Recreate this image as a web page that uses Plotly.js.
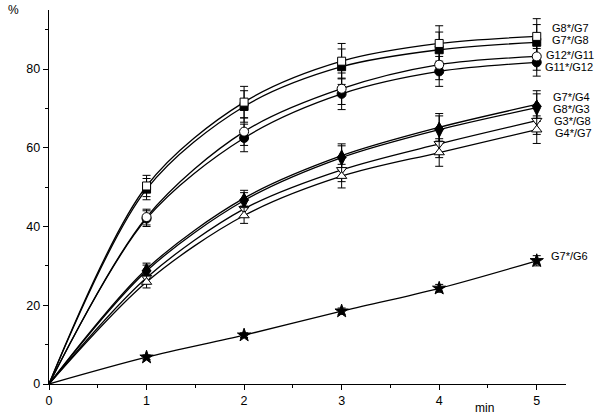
<!DOCTYPE html>
<html>
<head>
<meta charset="utf-8">
<script src="https://cdn.plot.ly/plotly-3.0.1.min.js"></script>
<style>html,body{margin:0;padding:0;background:#fff;}#chart{width:600px;height:419px;}</style>
</head>
<body>
<div id="chart"></div>
<script>
// time (min)
const times = [0, 1, 2, 3, 4, 5];

// series names
const names = ["G8*/G7", "G7*/G8", "G12*/G11", "G11*/G12", "G7*/G4", "G8*/G3", "G3*/G8", "G4*/G7", "G7*/G6"];

// values (%)
const g8g7   = [0, 50.3, 71.6, 82.0, 86.5, 88.3];
const g7g8   = [0, 49.5, 70.5, 80.6, 84.9, 86.8];
const g12g11 = [0, 42.4, 64.1, 75.0, 81.1, 83.2];
const g11g12 = [0, 42.0, 62.5, 73.7, 79.4, 81.7];
const g7g4   = [0, 29.2, 47.2, 58.0, 65.2, 71.0];
const g8g3   = [0, 28.7, 46.6, 57.5, 64.6, 70.2];
const g3g8   = [0, 27.0, 44.5, 54.4, 61.0, 66.9];
const g4g7   = [0, 25.9, 42.8, 52.8, 58.8, 64.6];
const g7g6   = [0, 6.8, 12.4, 18.5, 24.3, 31.3];

// error bars (±)
const errSq   = [0, 2.7, 4.0, 4.5, 4.5, 4.5];
const errCirc = [0, 2.0, 3.5, 4.0, 3.8, 3.5];
const errLow  = [0, 1.5, 2.0, 3.0, 3.5, 3.5];
const errStar = [0, 0.6, 0.6, 0.8, 1.0, 1.3];

// axis ticks
const yTicks = [0, 20, 40, 60, 80];
const xTicks = [0, 1, 2, 3, 4, 5];

const seriesVals = [g8g7, g7g8, g12g11, g11g12, g7g4, g8g3, g3g8, g4g7, g7g6];
const seriesErr  = [errSq, errSq, errCirc, errCirc, errLow, errLow, errLow, errLow, errStar];
const symbols = ["square", "square", "circle", "circle", "triangle-up", "diamond-tall", "triangle-down", "triangle-up", "star"];
const fills   = ["#fff", "#000", "#fff", "#000", "#000", "#000", "#fff", "#fff", "#000"];
const sizes   = [8, 8, 9, 9, 8, 11, 9, 9, 10];
const labelY = [90.5, 87.5, 83.6, 80.5, 73.0, 69.9, 66.8, 63.8, 32.5];
const labelX = [5.14, 5.14, 5.07, 5.06, 5.15, 5.15, 5.16, 5.17, 5.13];
// drawing order for markers: filled first, open on top
const drawOrder = [1, 3, 4, 5, 8, 0, 2, 6, 7];

const traces = [];
seriesVals.forEach((v, i) => {
  traces.push({
    x: times, y: v, type: "scatter", mode: "lines",
    line: {color: "#000", width: 1.3, shape: "spline", smoothing: 0.9},
    hoverinfo: "skip", showlegend: false
  });
});
drawOrder.forEach(i => {
  const v = seriesVals[i];
  traces.push({
    x: times.slice(1), y: v.slice(1), type: "scatter", mode: "markers", name: names[i],
    marker: {symbol: symbols[i], size: sizes[i], color: fills[i], line: {color: "#000", width: 1}},
    error_y: {type: "data", array: seriesErr[i].slice(1), visible: true, color: "#000", thickness: 1, width: 4},
    showlegend: false
  });
});

const fam = "Liberation Sans, Arial, sans-serif";
const annotations = names.map((n, i) => ({
  x: labelX[i], y: labelY[i], xref: "x", yref: "y", text: n, showarrow: false,
  xanchor: "left", yanchor: "middle", font: {family: fam, size: 11, color: "#000"}
}));
annotations.push({xref: "paper", yref: "paper", x: -0.068, y: 1.0, text: "%", showarrow: false,
  xanchor: "center", yanchor: "middle", font: {family: fam, size: 12, color: "#000"}});
annotations.push({xref: "x", yref: "paper", x: 4.46, y: -0.065, text: "min", showarrow: false,
  xanchor: "center", yanchor: "middle", font: {family: fam, size: 12, color: "#000"}});

const layout = {
  width: 600, height: 419,
  margin: {l: 49, r: 34, t: 10, b: 35},
  paper_bgcolor: "#fff", plot_bgcolor: "#fff",
  font: {family: fam, size: 12, color: "#000"},
  xaxis: {
    range: [0, 5.3], tickvals: xTicks, ticktext: xTicks.map(String),
    showgrid: false, zeroline: false, showline: true, linecolor: "#000", linewidth: 1.3,
    ticks: "outside", ticklen: 5, tickwidth: 1, tickcolor: "#000",
    minor: {dtick: 0.5, ticks: "outside", ticklen: 3, tickcolor: "#000", tickwidth: 1, showgrid: false},
    tickfont: {size: 12.5}
  },
  yaxis: {
    range: [0, 95], tickvals: yTicks, ticktext: yTicks.map(String),
    showgrid: false, zeroline: false, showline: true, linecolor: "#000", linewidth: 1.3,
    ticks: "outside", ticklen: 5, tickwidth: 1, tickcolor: "#000",
    minor: {dtick: 10, ticks: "outside", ticklen: 3, tickcolor: "#000", tickwidth: 1, showgrid: false},
    tickfont: {size: 12.5}
  },
  annotations: annotations,
  showlegend: false
};

Plotly.newPlot("chart", traces, layout, {displayModeBar: false, staticPlot: true});
</script>
</body>
</html>
